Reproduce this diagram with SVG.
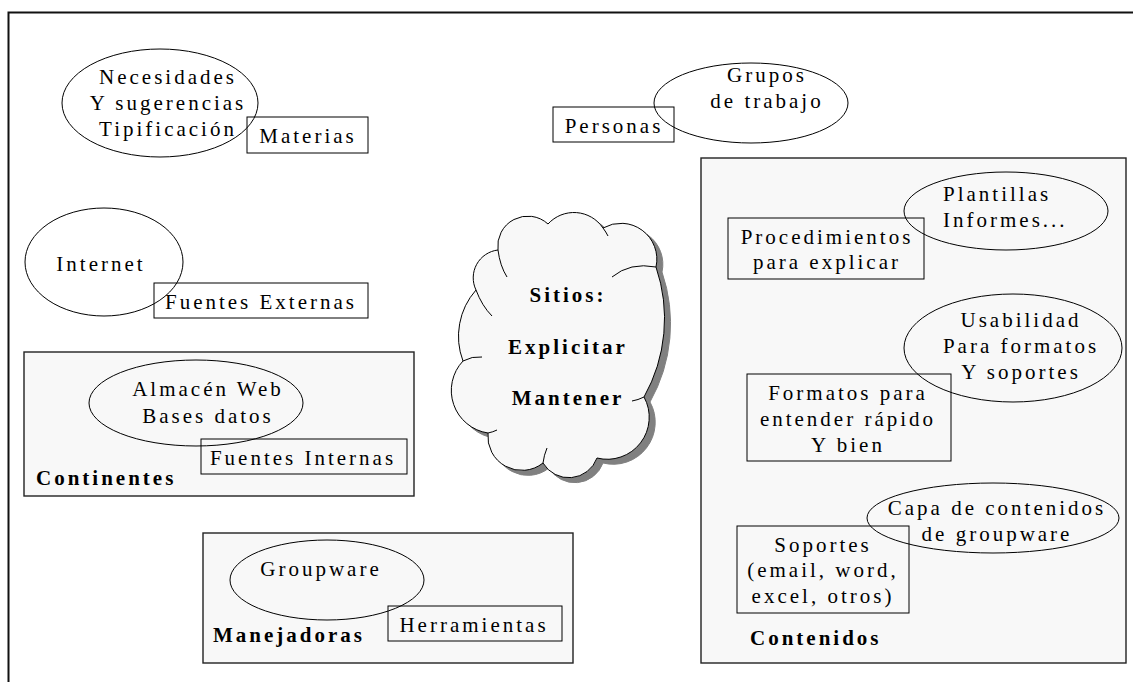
<svg xmlns="http://www.w3.org/2000/svg" xmlns:xlink="http://www.w3.org/1999/xlink" width="1133" height="682" viewBox="0 0 1133 682">
<style>
text{font-family:"Liberation Serif","Times New Roman",serif;font-size:21px;letter-spacing:3px;fill:#000}
.m{text-anchor:middle}
.b{font-weight:bold}
.box{fill:none;stroke:#000;stroke-width:1}
.ell{fill:none;stroke:#000;stroke-width:1}
.cont{fill:#f8f8f8;stroke:#222;stroke-width:1.4}
.inner{fill:none;stroke:#000;stroke-width:1}
</style>
<defs>
<path id="cloudPath" d="M498,250 A30,30 0 0 1 548,224 A35,35 0 0 1 603,228 A36,36 0 0 1 656,267 A160,160 0 0 1 644,397 A42,42 0 0 1 597,458 A30,30 0 0 1 543,463 A34,34 0 0 1 488,433 A43,43 0 0 1 463,361 A70,70 0 0 1 476,290 A28,28 0 0 1 498,250 Z"/>
</defs>
<rect x="0" y="0" width="1133" height="682" fill="#fff"/>
<rect id="frame" x="8.5" y="12.5" width="1200" height="800" fill="none" stroke="#111" stroke-width="2"/>

<g id="connectors"/>

<g id="continentes">
<rect class="cont" x="24" y="352" width="390" height="144"/>
<text class="b" x="36" y="485">Continentes</text>
</g>
<g id="manejadoras">
<rect class="cont" x="203" y="533" width="370" height="130"/>
<text class="b" x="213" y="642">Manejadoras</text>
</g>
<g id="contenidos">
<rect class="cont" x="701" y="158" width="425" height="505"/>
<text class="b" x="750" y="645">Contenidos</text>
</g>

<g id="necesidades">
<ellipse class="ell" cx="160" cy="103" rx="98" ry="54"/>
<text class="m" x="168" y="84">Necesidades</text>
<text class="m" x="168" y="110">Y sugerencias</text>
<text class="m" x="168" y="136">Tipificación</text>
</g>
<g id="materias">
<rect class="box" x="247" y="117" width="121" height="36"/>
<text class="m" x="308" y="143">Materias</text>
</g>
<g id="grupos">
<ellipse class="ell" cx="751" cy="103" rx="97" ry="40"/>
<text class="m" x="767" y="82">Grupos</text>
<text class="m" x="767" y="108">de trabajo</text>
</g>
<g id="personas">
<rect class="box" x="553" y="107" width="121" height="35"/>
<text class="m" x="614" y="133">Personas</text>
</g>
<g id="internet">
<ellipse class="ell" cx="104" cy="262" rx="79" ry="54"/>
<text class="m" x="101" y="271">Internet</text>
</g>
<g id="fuentes-externas">
<rect class="box" x="154" y="283" width="214" height="35"/>
<text class="m" x="261" y="309">Fuentes Externas</text>
</g>
<g id="almacen">
<ellipse class="ell" cx="196" cy="403" rx="107" ry="43"/>
<text class="m" x="208" y="396">Almacén Web</text>
<text class="m" x="208" y="423">Bases datos</text>
</g>
<g id="fuentes-internas">
<rect class="box" x="201" y="439" width="206" height="35"/>
<text class="m" x="303" y="465">Fuentes Internas</text>
</g>
<g id="groupware">
<ellipse class="ell" cx="327" cy="580" rx="97" ry="40"/>
<text class="m" x="321" y="576">Groupware</text>
</g>
<g id="herramientas">
<rect class="box" x="388" y="606" width="174" height="35"/>
<text class="m" x="474" y="632">Herramientas</text>
</g>

<g id="sitios">
<use xlink:href="#cloudPath" href="#cloudPath" transform="translate(6,5)" fill="#808080" stroke="#808080" stroke-width="1"/>
<use xlink:href="#cloudPath" href="#cloudPath" fill="#f8f8f8" stroke="#000" stroke-width="1"/>
<path class="inner" d="M498,250 Q500,266 507,277"/>
<path class="inner" d="M603,228 Q606,232 608,236"/>
<path class="inner" d="M656,267 Q630,262 612,277"/>
<path class="inner" d="M644,397 Q638,400 632,401"/>
<path class="inner" d="M543,463 Q544,455 547,448"/>
<path class="inner" d="M488,433 Q493,432 497,430"/>
<path class="inner" d="M463,361 Q472,356 482,357"/>
<path class="inner" d="M476,290 Q482,306 492,316"/>
<text class="m b" x="568" y="302">Sitios:</text>
<text class="m b" x="568" y="354">Explicitar</text>
<text class="m b" x="568" y="405">Mantener</text>
</g>

<g id="plantillas">
<ellipse class="ell" cx="1006" cy="211" rx="102" ry="39"/>
<text x="943" y="201">Plantillas</text>
<text x="943" y="227">Informes...</text>
</g>
<g id="procedimientos">
<rect class="box" x="728" y="218" width="196" height="61"/>
<text class="m" x="827" y="244">Procedimientos</text>
<text class="m" x="827" y="269">para explicar</text>
</g>
<g id="usabilidad">
<ellipse class="ell" cx="1013" cy="348" rx="109" ry="54"/>
<text class="m" x="1021" y="327">Usabilidad</text>
<text class="m" x="1021" y="353">Para formatos</text>
<text class="m" x="1021" y="379">Y soportes</text>
</g>
<g id="formatos">
<rect class="box" x="747" y="374" width="204" height="87"/>
<text class="m" x="848" y="400">Formatos para</text>
<text class="m" x="848" y="426">entender rápido</text>
<text class="m" x="848" y="452">Y bien</text>
</g>
<g id="capa">
<ellipse class="ell" cx="993" cy="518" rx="126" ry="35"/>
<text class="m" x="997" y="515">Capa de contenidos</text>
<text class="m" x="997" y="541">de groupware</text>
</g>
<g id="soportes">
<rect class="box" x="737" y="526" width="172" height="87"/>
<text class="m" x="823" y="552">Soportes</text>
<text class="m" x="823" y="577">(email, word,</text>
<text class="m" x="823" y="603">excel, otros)</text>
</g>
</svg>
